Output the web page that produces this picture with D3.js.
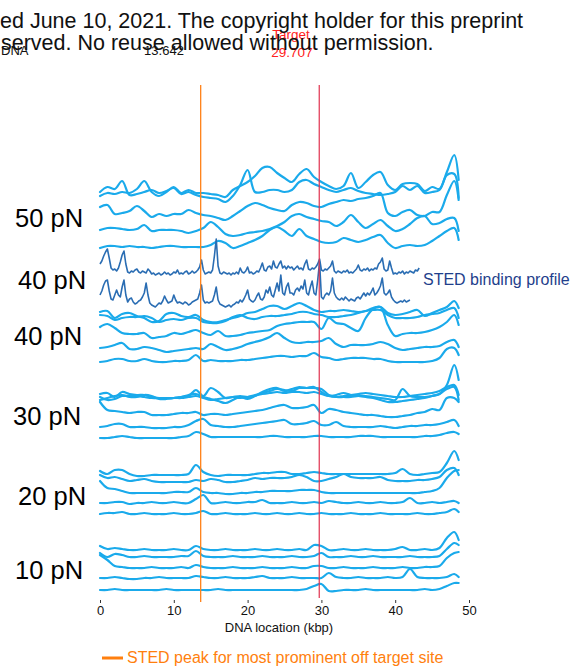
<!DOCTYPE html>
<html>
<head>
<meta charset="utf-8">
<script src="https://cdn.jsdelivr.net/npm/d3@7"></script>
<style>
  body { margin: 0; background: #fff; }
  svg { display: block; }
  text { font-family: "Liberation Sans", Arial, Helvetica, sans-serif; }
</style>
</head>
<body>
<svg id="chart" width="571" height="666"></svg>
<script>
// ---- sampling grid of the smoothed force-extension profiles (kbp) ----
const kbp = [0,1,2,3,4,5,6,7,8,9,10,11,12,13,14,15,16,17,18,19,20,21,22,23,24,
             25,26,27,28,29,30,31,32,33,34,35,36,37,38,39,40,41,42,43,44,45,46,47,48,48.6];

// ---- marked sites on the lambda DNA (kbp) ----
const offTargetSite = 13.642;
const targetSite = 29.707;

// ---- axis ----
const xTicks = [0, 10, 20, 30, 40, 50];

// ---- force group labels ----
const forceLabels = ["50 pN", "40 pN", "40 pN", "30 pN", "20 pN", "10 pN"];

// ---- 50 pN traces: stacking offsets and signals ----
const offsets50 = [409, 408, 387, 372, 356];
const trace50a = [3,8,6,14,0,1,3,5,2,4,7,1,3,0,-2,-3,-4,-7,-1,10,25,3,3,5,5,
                  3,5,13,15,11,8,5,3,5,7,4,2,1,0,1,3,9,5,9,2,3,5,20,21,-3];
const trace50b = [0,3,2,4,3,7,15,4,0,4,9,3,6,3,3,2,1,-1,6,10,14,20,28,29,23,
                  18,14,22,27,19,14,10,7,10,23,8,14,21,24,11,6,12,13,12,5,9,7,24,41,16];
const trace50c = [10,12,3,4,6,11,6,0,3,1,3,3,7,4,2,1,-1,-3,1,6,11,14,12,9,7,
                  6,12,15,14,11,10,13,15,17,16,18,19,21,24,4,1,5,7,2,1,5,5,22,36,17];
const trace50d = [2,4,4,3,2,3,7,1,2,2,2,1,-1,1,4,10,5,-2,-4,-3,-1,0,1,3,6,
                  10,16,18,15,13,11,10,6,10,17,10,4,8,12,6,1,3,8,14,16,8,9,13,14,1];
const trace50e = [0,2,2,1,2,1,1,0,1,2,2,1,1,1,1,3,7,5,0,2,5,8,12,18,21,
                  17,12,19,12,9,6,5,6,10,8,6,8,11,13,5,0,2,3,2,3,7,12,17,20,8];

// ---- STED binding profiles (0.25 kbp sampling) ----
const stedStep = 0.25;
const stedOffsets = [328, 299];
const sted1 = [12,15,20,24, 27,18,8,6, 7,5,8,14, 21,25,12,4, 3,5,4,6, 7,4,3,5, 4,3,7,5,
               2,3,1,2, 3,1,2,4, 2,3,1,2, 4,3,6,2, 3,2,4,5, 2,3,5,3, 4,6,9,16,
               6,2,3,4, 3,6,20,37, 10,3,2,4, 3,2,3,1, 3,2,4,2, 8,4,3,5, 9,3,4,2,
               3,5,4,8, 13,6,5,9, 10,7,15,9, 8,12,15,8, 10,7,10,8, 9,6,8,10, 7,8,6,12,
               16,7,6,8, 7,9,12,17, 6,5,7,6, 8,10,15,5, 3,5,4,3, 5,4,6,3, 4,3,5,7,
               11,6,5,7, 6,8,5,7, 6,8,7,12, 14,18,7,5, 6,15,8,2, 3,2,4,3, 5,2,4,3,
               5,4,3,6, 5,8];
const sted2 = [10,14,20,24, 25,14,6,5, 10,15,10,8, 18,25,10,3, 6,7,3,1, 2,4,5,8, 12,22,10,2,
               0,-1,-2,0, 2,1,4,9, 5,2,3,4, 10,5,2,3, 2,1,3,2, 0,1,3,4, 5,6,12,20,
               5,2,3,2, 3,4,10,18, 5,1,0,-1, -2,-1,0,-2, 0,1,3,2, 5,3,6,10, 15,6,4,3,
               5,9,12,6, 5,8,15,12, 18,10,8,15, 22,14,30,12, 10,18,22,12, 12,10,15,17, 14,19,16,25,
               12,10,18,24, 12,10,25,43, 8,6,10,12, 10,14,27,12, 8,6,5,7, 5,8,6,4, 6,5,4,7,
               8,6,9,12, 9,12,10,13, 17,10,12,15, 19,27,12,10, 12,15,8,5, 3,2,3,4, 3,5,3,4,
               5];

// ---- 40 pN traces ----
const offsets40 = [288, 284, 270, 256, 243];
const trace40a = [4,5,-2,2,3,0,-2,-6,-5,2,3,0,-1,1,-4,-6,-6,-4,-2,0,3,4,7,10,10,
                  7,10,13,10,6,4,5,5,6,5,4,5,8,9,3,1,2,4,6,0,3,6,9,15,8];
const trace40b = [5,4,0,2,3,3,4,2,-2,0,1,0,2,2,-2,-3,-3,-1,3,5,2,1,3,4,4,
                  5,6,8,8,6,5,3,3,4,5,7,9,10,10,5,2,2,2,3,5,6,7,10,12,2];
const trace40c = [7,10,6,1,0,0,1,-4,-3,-2,1,0,2,4,1,-1,3,-2,-2,-1,1,2,3,4,8,
                  10,11,12,12,12,5,16,11,10,6,3,16,25,27,9,-2,0,1,1,2,4,7,12,19,9];
const trace40d = [0,1,3,5,-1,-1,1,0,-2,-4,-3,-2,-1,0,-1,4,1,-2,-1,1,4,6,8,11,15,
                  10,6,5,6,6,7,10,4,1,3,3,3,4,6,4,0,-2,-1,0,1,1,2,6,8,1];
const trace40e = [-1,0,2,2,0,0,2,0,-1,-1,0,0,1,6,0,1,0,0,0,1,1,2,3,4,5,
                  5,4,5,5,8,4,3,1,2,3,3,3,2,2,0,-1,-1,-1,-1,-1,0,3,12,13,6];

// ---- 30 pN traces ----
const offsets30 = [208, 207, 205, 191, 177, 167];
const trace30a = [2,3,-1,4,2,1,1,-1,-2,-2,-2,-1,0,6,0,8,4,-2,-1,0,-1,0,3,5,7,
                  6,5,8,8,8,7,1,-1,-1,-1,0,0,-1,-2,-3,-4,7,0,-1,-1,0,2,11,31,16];
const trace30b = [0,-3,-2,1,1,1,0,-1,-1,-1,-1,0,2,3,0,-2,-4,-6,-3,0,-2,1,5,8,9,
                  6,8,10,9,10,5,1,0,1,2,3,4,3,2,1,0,0,1,2,3,4,6,10,12,2];
const trace30c = [-1,1,3,4,2,2,4,3,0,0,1,1,2,3,1,-1,0,1,2,1,2,4,5,6,7,
                  6,7,7,6,7,5,3,4,6,4,3,2,1,-1,-3,-3,-2,-1,0,1,3,5,10,12,-1];
const trace30d = [11,3,2,1,0,1,1,-2,-2,-2,-1,0,0,1,-2,-1,-1,-2,-1,0,1,2,3,5,7,
                  8,5,5,6,8,0,4,3,1,0,-1,-2,-2,-3,-4,-4,-3,-2,0,1,4,3,15,15,11];
const trace30e = [0,1,3,3,0,0,0,-1,-1,-1,0,0,2,6,8,2,1,0,0,1,2,3,4,5,6,
                  7,3,3,4,6,2,2,5,1,0,0,0,0,1,0,-1,0,1,1,2,2,3,5,7,1];
const trace30f = [-1,-1,0,1,0,-1,-1,-1,-1,-1,-1,0,1,5,3,0,0,0,0,0,0,0,0,1,1,
                  0,0,0,0,1,1,0,0,0,0,1,1,1,0,0,0,0,0,0,1,1,2,4,5,3];

// ---- 20 pN traces ----
const offsets20 = [129, 123, 111, 101, 90];
const trace20a = [4,1,5,5,1,-1,-1,0,0,0,0,0,1,10,3,0,-1,0,0,0,0,1,2,2,3,
                  3,1,1,2,3,2,1,1,1,1,1,1,1,1,1,2,6,1,0,1,2,3,12,24,15];
const trace20b = [6,3,4,2,0,1,2,0,-1,-1,-1,-1,-1,1,0,2,1,-1,-1,0,1,3,2,3,3,
                  3,4,6,4,0,0,2,4,7,4,3,3,3,4,1,0,0,0,1,1,2,4,11,13,6];
const trace20c = [12,5,4,2,0,0,0,0,0,0,1,1,1,5,1,0,0,-1,-1,0,0,1,1,2,2,
                  2,2,3,3,3,1,0,0,0,0,0,0,0,0,0,0,0,0,0,1,2,5,15,22,23];
const trace20d = [0,0,1,1,-1,0,0,1,0,0,1,0,0,4,8,0,0,1,0,0,1,1,3,0,0,
                  0,1,0,0,1,0,2,1,0,0,1,0,0,1,0,0,1,5,0,0,1,0,1,2,0];
const trace20e = [0,1,1,2,0,0,1,0,0,0,1,0,0,1,3,0,0,1,0,0,0,1,0,0,1,
                  0,0,1,0,0,1,0,0,0,1,0,0,0,1,0,0,0,0,1,0,0,1,2,5,2];

// ---- 10 pN traces ----
const offsets10 = [54, 47, 36, 26, 14];
const trace10a = [4,1,2,1,0,0,1,0,0,0,1,0,0,4,1,0,0,1,0,0,0,1,0,0,1,
                  0,0,1,0,5,4,0,0,1,0,0,1,0,0,0,1,3,0,0,1,0,2,12,18,10];
const trace10b = [4,0,3,2,0,0,1,0,0,0,0,1,1,6,1,0,0,0,1,0,0,0,1,0,0,
                  0,1,0,0,1,4,0,0,0,1,0,0,1,0,0,0,0,1,0,0,0,1,8,14,12];
const trace10c = [13,8,2,1,0,0,0,1,0,0,0,1,0,3,1,0,0,0,1,0,0,0,1,0,0,
                  0,1,0,0,2,2,0,0,1,0,0,0,1,0,0,0,1,0,0,1,1,2,10,15,16];
const trace10d = [0,0,1,0,-1,-1,0,0,1,0,0,0,0,2,1,0,0,1,0,0,0,1,2,0,0,
                  0,1,0,0,0,0,5,1,0,0,1,0,0,0,1,0,1,9,1,0,0,0,1,4,1];
const trace10e = [0,0,1,0,0,0,0,0,0,1,0,0,0,0,0,0,1,0,0,0,0,0,0,0,0,
                  0,0,0,1,4,6,-1,-1,0,0,0,1,0,0,0,0,0,0,0,1,0,1,4,7,7];

// ---- layout ----
const svg = d3.select("#chart");

const x = d3.scaleLinear().domain([0, 50]).range([100, 469]);
const y = d3.scaleLinear().domain([0, 520]).range([604, 84]);

const traceColor = "#1aaaeb";
const stedColor = "#2a6db3";

const smoothLine = offset => d3.line()
  .x((d, i) => x(kbp[i]))
  .y(d => y(offset + d))
  .curve(d3.curveCatmullRom.alpha(0.5));

const groups = [
  { offsets: offsets50, traces: [trace50a, trace50b, trace50c, trace50d, trace50e] },
  { offsets: offsets40, traces: [trace40a, trace40b, trace40c, trace40d, trace40e] },
  { offsets: offsets30, traces: [trace30a, trace30b, trace30c, trace30d, trace30e, trace30f] },
  { offsets: offsets20, traces: [trace20a, trace20b, trace20c, trace20d, trace20e] },
  { offsets: offsets10, traces: [trace10a, trace10b, trace10c, trace10d, trace10e] }
];

const traceLayer = svg.append("g").attr("class", "traces");
groups.forEach(g => {
  g.traces.forEach((t, j) => {
    traceLayer.append("path")
      .datum(t)
      .attr("d", smoothLine(g.offsets[j]))
      .attr("fill", "none")
      .attr("stroke", traceColor)
      .attr("stroke-width", 2.2)
      .attr("stroke-linejoin", "round")
      .attr("stroke-linecap", "round");
  });
});

// STED binding profiles
const stedLine = offset => d3.line()
  .x((d, i) => x(i * stedStep))
  .y(d => y(offset + d));
[sted1, sted2].forEach((s, j) => {
  traceLayer.append("path")
    .datum(s)
    .attr("d", stedLine(stedOffsets[j]))
    .attr("fill", "none")
    .attr("stroke", stedColor)
    .attr("stroke-width", 1.6)
    .attr("stroke-linejoin", "round");
});

svg.append("text")
  .attr("x", 423).attr("y", 285)
  .attr("font-size", 16)
  .attr("fill", "#1f3f8c")
  .text("STED binding profile");

// site markers
svg.append("line")
  .attr("x1", x(offTargetSite)).attr("x2", x(offTargetSite))
  .attr("y1", 85).attr("y2", 602)
  .attr("stroke", "#ff8118").attr("stroke-width", 1.3);
svg.append("line")
  .attr("x1", x(targetSite)).attr("x2", x(targetSite))
  .attr("y1", 85).attr("y2", 598)
  .attr("stroke", "#e0324e").attr("stroke-width", 1.2);

// force labels
const labelPos = [[15, 227], [18, 289], [14, 345], [13, 425], [18, 505], [15, 579]];
forceLabels.forEach((t, i) => {
  svg.append("text")
    .attr("x", labelPos[i][0]).attr("y", labelPos[i][1])
    .attr("font-size", 25.5)
    .attr("fill", "#000")
    .text(t);
});

// x axis
const axis = svg.append("g")
  .attr("transform", "translate(0,600)")
  .call(d3.axisBottom(x).tickValues(xTicks).tickSize(3).tickPadding(3));
axis.select(".domain").remove();
axis.selectAll(".tick line").attr("stroke", "#333");
axis.selectAll(".tick text")
  .attr("font-size", 13)
  .attr("fill", "#111")
  .style("font-family", "'Liberation Sans', Arial, sans-serif");

svg.append("text")
  .attr("x", 279).attr("y", 632)
  .attr("text-anchor", "middle")
  .attr("font-size", 13)
  .attr("fill", "#111")
  .text("DNA location (kbp)");

// legend
svg.append("line")
  .attr("x1", 102).attr("x2", 123)
  .attr("y1", 658).attr("y2", 658)
  .attr("stroke", "#ff7f0e").attr("stroke-width", 3);
svg.append("text")
  .attr("x", 127).attr("y", 663)
  .attr("font-size", 16)
  .attr("fill", "#ff7f0e")
  .text("STED peak for most prominent off target site");

// site annotations
svg.append("text").attr("x", 1).attr("y", 55).attr("font-size", 13).attr("fill", "#111").text("DNA");
svg.append("text").attr("x", 164).attr("y", 55).attr("font-size", 13).attr("fill", "#111")
  .attr("text-anchor", "middle").text(offTargetSite.toFixed(3));
svg.append("text").attr("x", 291).attr("y", 39).attr("font-size", 13.5).attr("fill", "#ff2020")
  .attr("text-anchor", "middle").text("Target");
svg.append("text").attr("x", 292).attr("y", 57).attr("font-size", 13.5).attr("fill", "#ff2020")
  .attr("text-anchor", "middle").text(targetSite.toFixed(3));

// preprint notice
svg.append("text").attr("x", 0).attr("y", 28).attr("font-size", 21.5).attr("fill", "#111")
  .text("ed June 10, 2021. The copyright holder for this preprint");
svg.append("text").attr("x", 1).attr("y", 50).attr("font-size", 21.5).attr("fill", "#111")
  .text("served. No reuse allowed without permission.");
</script>
</body>
</html>
